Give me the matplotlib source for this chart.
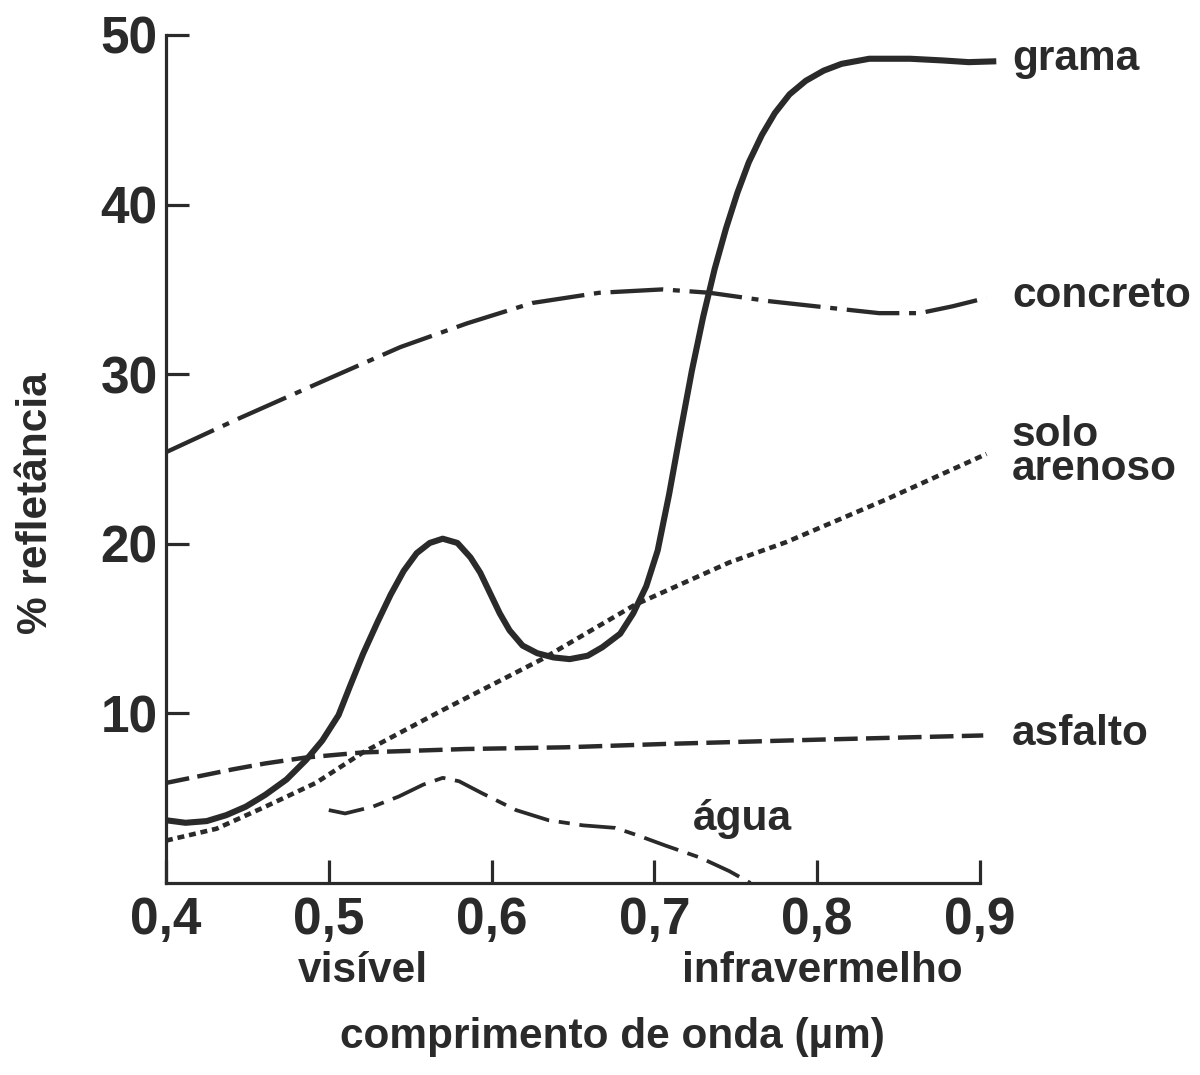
import matplotlib
matplotlib.use("Agg")
import matplotlib.pyplot as plt

# ---------------- data ----------------
grama_x = [0.400, 0.412, 0.425, 0.437, 0.449, 0.461, 0.474, 0.486, 0.496, 0.506,
           0.513, 0.521, 0.530, 0.538, 0.546, 0.554, 0.562, 0.570, 0.579, 0.587,
           0.593, 0.599, 0.605, 0.611, 0.619, 0.628, 0.638, 0.648, 0.659, 0.668,
           0.679, 0.687, 0.695, 0.702, 0.709, 0.716, 0.723, 0.730, 0.737, 0.744,
           0.751, 0.758, 0.766, 0.774, 0.783, 0.793, 0.804, 0.815, 0.832, 0.857,
           0.877, 0.893, 0.910]
grama_y = [3.7, 3.55, 3.65, 4.0, 4.5, 5.2, 6.1, 7.25, 8.4, 9.9,
           11.6, 13.5, 15.4, 17.0, 18.4, 19.45, 20.05, 20.3, 20.05, 19.2,
           18.3, 17.1, 15.9, 14.9, 14.0, 13.55, 13.3, 13.2, 13.4, 13.9,
           14.7, 15.9, 17.5, 19.6, 22.9, 26.6, 30.2, 33.4, 36.2, 38.6,
           40.7, 42.5, 44.1, 45.4, 46.5, 47.3, 47.9, 48.3, 48.6, 48.6,
           48.5, 48.4, 48.45]

concreto_x = [0.400, 0.445, 0.499, 0.544, 0.585, 0.625, 0.666, 0.705, 0.734,
              0.771, 0.809, 0.838, 0.863, 0.883, 0.904]
concreto_y = [25.4, 27.4, 29.7, 31.6, 33.0, 34.2, 34.8, 35.0, 34.8,
              34.3, 33.9, 33.6, 33.6, 34.0, 34.5]

solo_x = [0.400, 0.431, 0.461, 0.492, 0.521, 0.570, 0.631, 0.688, 0.746, 0.781, 0.842, 0.904]
solo_y = [2.5, 3.2, 4.5, 5.9, 7.7, 10.2, 13.2, 16.4, 18.9, 20.1, 22.6, 25.3]

asfalto_x = [0.400, 0.441, 0.461, 0.486, 0.521, 0.584, 0.645, 0.707, 0.800, 0.902]
asfalto_y = [5.9, 6.7, 7.05, 7.4, 7.7, 7.9, 8.0, 8.2, 8.45, 8.7]

agua_x = [0.500, 0.510, 0.527, 0.543, 0.558, 0.570, 0.580, 0.594, 0.615, 0.635,
          0.656, 0.676, 0.690, 0.707, 0.728, 0.746, 0.759]
agua_y = [4.3, 4.1, 4.5, 5.1, 5.8, 6.2, 6.0, 5.3, 4.3, 3.7,
          3.4, 3.25, 2.8, 2.2, 1.5, 0.7, 0.0]

x_ticks = [0.4, 0.5, 0.6, 0.7, 0.8, 0.9]
x_tick_labels = ["0,4", "0,5", "0,6", "0,7", "0,8", "0,9"]
y_ticks = [10, 20, 30, 40, 50]
y_tick_labels = ["10", "20", "30", "40", "50"]

series_labels = ["grama", "concreto", "solo\narenoso", "asfalto", "água"]
y_axis_label = "% refletância"
x_axis_label = "comprimento de onda (µm)"
band_labels = ["visível", "infravermelho"]

# ---------------- style ----------------
INK = "#2a2a2a"
plt.rcParams["font.family"] = ["Liberation Sans", "DejaVu Sans"]
plt.rcParams["font.weight"] = "bold"
plt.rcParams["lines.scale_dashes"] = False

W, H = 1200, 1075
fig = plt.figure(figsize=(W / 100, H / 100), dpi=100)
fig.patch.set_facecolor("white")

ax = fig.add_axes([166 / W, 1 - 883 / H, (980 - 166) / W, (883 - 35) / H])
ax.set_xlim(0.4, 0.9)
ax.set_ylim(0, 50)

for s in ["top", "right"]:
    ax.spines[s].set_visible(False)
for s in ["left", "bottom"]:
    ax.spines[s].set_linewidth(2.3)
    ax.spines[s].set_color(INK)
    ax.spines[s].set_capstyle("projecting")

ax.set_xticks(x_ticks)
ax.set_xticklabels(x_tick_labels)
ax.set_yticks(y_ticks)
ax.set_yticklabels(y_tick_labels)
ax.tick_params(axis="both", direction="in", length=16.5, width=2.3, color=INK,
               labelcolor=INK, labelsize=37)
ax.tick_params(axis="x", pad=9)
ax.tick_params(axis="y", pad=6)
for lab in ax.get_xticklabels() + ax.get_yticklabels():
    lab.set_fontweight("bold")

common = dict(color=INK, clip_on=False, dash_capstyle="butt",
              solid_capstyle="butt", solid_joinstyle="round")
ax.plot(grama_x, grama_y, lw=4.4, **common)
ax.plot(concreto_x, concreto_y, lw=3.1, dashes=(38, 7, 5, 7), **common)
ax.plot(solo_x, solo_y, lw=3.3, dashes=(5, 3.5), **common)
ax.plot(asfalto_x, asfalto_y, lw=3.2, dashes=(17, 6), **common)
ax.plot(agua_x, agua_y, lw=2.7, dashes=(26, 7, 8, 7), **common)


def fpos(x, y):
    return x / W, 1 - y / H


FS = 30.5
txt = dict(color=INK, fontsize=FS, fontweight="bold", va="baseline")
fig.text(*fpos(1012, 70), series_labels[0], ha="left", **txt)
fig.text(*fpos(1012, 307), series_labels[1], ha="left", **txt)
fig.text(*fpos(1012, 480), series_labels[2], ha="left", linespacing=0.8, **txt)
fig.text(*fpos(1012, 745), series_labels[3], ha="left", **txt)
fig.text(*fpos(693, 830), series_labels[4], ha="left", **txt)

fig.text(*fpos(363, 982), band_labels[0], ha="center", **txt)
fig.text(*fpos(822, 982), band_labels[1], ha="center", **txt)
fig.text(*fpos(612, 1048), x_axis_label, ha="center", **txt)
fig.text(*fpos(47, 503), y_axis_label, ha="center", rotation=90,
         rotation_mode="anchor", **txt)

fig.savefig("out.png", dpi=100, facecolor="white")
